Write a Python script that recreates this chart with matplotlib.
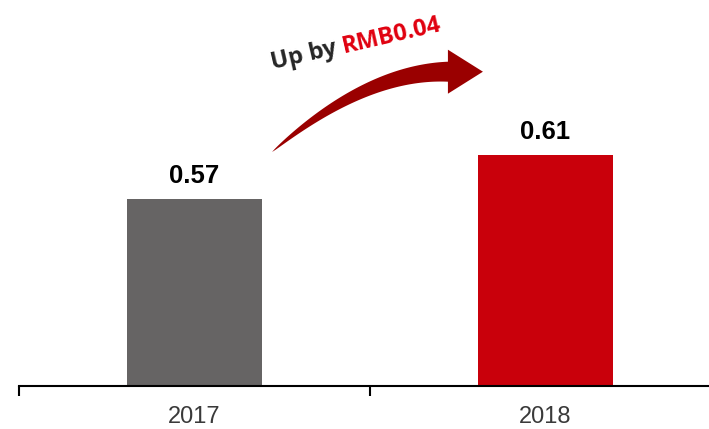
import matplotlib
matplotlib.use("Agg")
import numpy as np
import matplotlib.pyplot as plt
from matplotlib.patches import Polygon

# data
years = ["2017", "2018"]
eps = [0.57, 0.61]
bar_colors = ["#666464", "#c9000b"]
note_prefix = "Up by "
note_amount = "RMB0.04"

W, H, DPI = 709, 429, 100
Y0 = 0.40          # value at the baseline
PX_PER_UNIT = 1100.0
BASE_PX = 386.3    # baseline, pixels from top

fig = plt.figure(figsize=(W / DPI, H / DPI), dpi=DPI)
ax = fig.add_axes([19 / W, (H - BASE_PX) / H, 702 / W, BASE_PX / H])
ax.set_xlim(-0.5, 1.5)
ax.set_ylim(Y0, Y0 + BASE_PX / PX_PER_UNIT)

x = np.arange(len(years))
ax.bar(x, eps, width=0.385, color=bar_colors, zorder=2)

for xi, v in zip(x, eps):
    ax.annotate("%.2f" % v, (xi, v), xytext=(0, 8), textcoords="offset points",
                ha="center", va="bottom", fontsize=18.5, fontweight="bold",
                family="Liberation Sans", color="black")

# axis styling: only the bottom spine, ticks at category boundaries
for s in ("left", "right", "top"):
    ax.spines[s].set_visible(False)
ax.spines["bottom"].set_linewidth(1.5)
ax.set_yticks([])
ax.set_xticks([-0.5, 0.5, 1.5])
ax.set_xticklabels([])
ax.tick_params(axis="x", which="major", length=7.2, width=1.5, color="black")
ax.set_xticks(x, minor=True)
ax.set_xticklabels(years, minor=True, fontsize=17, family="Liberation Sans",
                   color="#3a3a3a")
ax.tick_params(axis="x", which="minor", length=0, pad=14)

# curved tapered arrow between the two bars (display pixels)
tr = ax.transData
p0 = tr.transform((0.221, 0.613))   # tail point
p2 = tr.transform((0.722, 0.686))   # head base centre
p1 = np.array([p0[0] + 0.53 * (p2[0] - p0[0]), p2[1]])
t = np.linspace(0, 1, 60)[:, None]
curve = (1 - t) ** 2 * p0 + 2 * (1 - t) * t * p1 + t ** 2 * p2
deriv = 2 * (1 - t) * (p1 - p0) + 2 * t * (p2 - p1)
tang = deriv / np.linalg.norm(deriv, axis=1)[:, None]
norm = np.column_stack([-tang[:, 1], tang[:, 0]])
half = 10.0 * t ** 0.7
upper = curve + norm * half
lower = curve - norm * half
d_end = tang[-1]
n_end = norm[-1]
head = [p2 + n_end * 22, p2 + d_end * 35, p2 - n_end * 22]
pts = np.vstack([upper, head, lower[::-1]])
ax.add_patch(Polygon(pts, closed=True, transform=None, facecolor="#9a0000",
                     edgecolor="none", zorder=3, clip_on=False))

# rotated two-colour note
rot = 13
font = dict(fontsize=17, fontweight="bold", family="Open Sans")
r = fig.canvas.get_renderer()
tmp_full = fig.text(0, 0, note_prefix + note_amount, **font)
tmp_amt = fig.text(0, 0, note_amount, **font)
shift = (tmp_full.get_window_extent(r).width
         - tmp_amt.get_window_extent(r).width)
tmp_full.remove()
tmp_amt.remove()

anchor = np.array([0.224, 0.688])
ax.text(anchor[0], anchor[1], note_prefix, rotation=rot, rotation_mode="anchor",
        ha="left", va="baseline", color="#262626", **font)
a_disp = tr.transform(anchor)
ang = np.deg2rad(rot)
b_disp = a_disp + shift * np.array([np.cos(ang), np.sin(ang)])
b = tr.inverted().transform(b_disp)
ax.text(b[0], b[1], note_amount, rotation=rot, rotation_mode="anchor",
        ha="left", va="baseline", color="#e0000f", **font)

fig.savefig("out.png", dpi=DPI)
